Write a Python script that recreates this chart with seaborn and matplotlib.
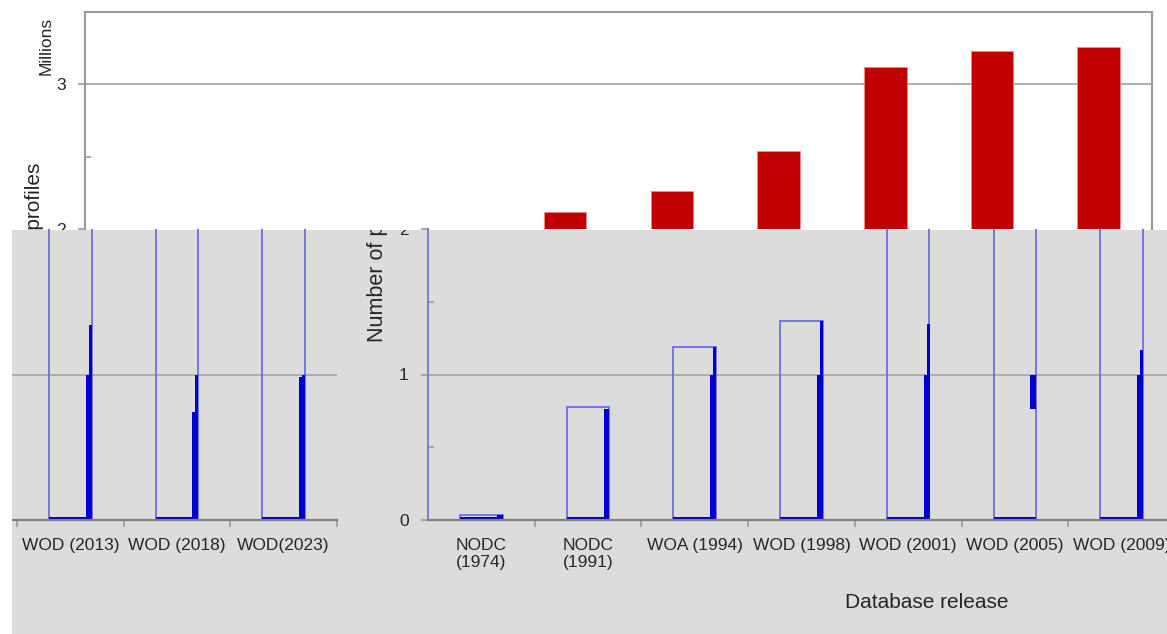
import numpy as np
import matplotlib
matplotlib.use("Agg")
import matplotlib.pyplot as plt
from matplotlib.patches import Rectangle
from matplotlib.ticker import FixedLocator
import seaborn as sns

# ---------------- DATA ----------------
releases = ["NODC\n(1974)", "NODC\n(1991)", "WOA (1994)", "WOD (1998)", "WOD (2001)",
            "WOD (2005)", "WOD (2009)", "WOD (2013)", "WOD (2018)", "WOD(2023)"]
profiles_m = [0.035, 0.78, 1.19, 1.37, 2.12, 2.26, 2.54, 3.12, 3.23, 3.26]

# thick blue strip drawn at the right edge of each outlined bar (rendering artefact)
strip_bottom = [0, 0, 0, 0, 0, 0.76, 0, 0, 0, 0]
strip_top = [0.035, 0.76, 1.0, 1.0, 1.0, 1.0, 1.0, 1.0, 0.74, 0.98]
strip_mid_top = [0, 0, 1.19, 1.37, 1.35, 0, 1.17, 1.34, 1.0, 1.0]

# ---------------- STYLE ----------------
sns.set_style("white")
plt.rcParams["font.family"] = ["Liberation Sans", "DejaVu Sans"]

W, H = 1167, 634
RED = "#c00000"
BLUE = "#0000cc"
EDGE = "#6f6fdc"
GRID = "#a8a8a8"
SPINE = "#9a9a9a"
BG = "#dcdcdc"

fig = plt.figure(figsize=(W / 100, H / 100), dpi=100)


def px_box(x0, y0, x1, y1):
    # pixel box (top-left origin) -> figure fraction rect
    return [x0 / W, 1 - y1 / H, (x1 - x0) / W, (y1 - y0) / H]


# ---------------- TOP (white, red bars) ----------------
ax_top = fig.add_axes(px_box(85, 12, 1152, 229))
ax_top.set_zorder(0)
sns.barplot(x=releases, y=profiles_m, color=RED, saturation=1, width=0.4,
            edgecolor="#e88", linewidth=0.6, ax=ax_top)
ax_top.set_xlim(-0.5, 9.5)
ax_top.set_ylim(2, 3.5)
ax_top.set_yticks([2, 3])
ax_top.set_yticklabels(["2", "3"], fontsize=12.5)
ax_top.yaxis.set_minor_locator(FixedLocator([2.5]))
ax_top.tick_params(axis="y", which="major", direction="out", length=5, width=1.2,
                   color=SPINE, pad=9, left=True)
ax_top.tick_params(axis="y", which="minor", direction="in", length=4, width=1.2,
                   color=SPINE, left=True)
ax_top.set_xticks([])
ax_top.set_xlabel("")
ax_top.axhline(3, color=GRID, lw=1.3, zorder=0)
for side in ["left", "top", "right"]:
    ax_top.spines[side].set_color(SPINE)
    ax_top.spines[side].set_linewidth(1.5)
ax_top.spines["bottom"].set_visible(False)
ax_top.text(40 / W, 1 - 163 / H, "Number of profiles", transform=fig.transFigure,
            rotation=90, rotation_mode="anchor", ha="right", va="baseline",
            fontsize=15, clip_on=False)
fig.text(51 / W, 1 - 46 / H, "Millions", rotation=90, rotation_mode="anchor",
         ha="center", va="baseline", fontsize=12.5)

# ---------------- BOTTOM (grey, shifted copy) ----------------
ax_bg = fig.add_axes(px_box(12, 230, 1167, 634))
ax_bg.set_zorder(1)
ax_bg.set_facecolor(BG)
ax_bg.set_xticks([])
ax_bg.set_yticks([])
for s in ax_bg.spines.values():
    s.set_visible(False)
ax_bg.text(383 / W, 1 - 342 / H, "Number of profiles", transform=fig.transFigure,
           rotation=90, rotation_mode="anchor", ha="left", va="baseline",
           fontsize=15.5, clip_on=True)


def draw_bottom(ax, shown):
    ax.set_facecolor("none")
    ax.axhline(1, color=GRID, lw=1.3, zorder=0)
    sns.barplot(x=releases, y=profiles_m, color=EDGE, fill=False, width=0.4,
                linewidth=1.3, ax=ax)
    xs = np.arange(len(releases))
    ax.bar(xs, 0.02, width=0.4, color=BLUE, linewidth=0)
    w1 = 0.055
    ax.bar(xs + 0.2 - w1 / 2, np.array(strip_top) - np.array(strip_bottom),
           bottom=strip_bottom, width=w1, color=BLUE, linewidth=0)
    w2 = 0.028
    ax.bar(xs + 0.2 - w1 / 2 + w2 / 2, strip_mid_top, width=w2, color=BLUE, linewidth=0)
    ax.set_xlim(-0.5, 9.5)
    ax.set_ylim(0, 2)
    ax.set_xticks(xs)
    # only the labels that fall inside the picture
    ax.set_xticklabels([lab if i in shown else "" for i, lab in enumerate(releases)],
                       fontsize=12.5)
    ax.xaxis.set_minor_locator(FixedLocator(xs + 0.5))
    ax.tick_params(axis="x", which="major", length=0, pad=13)
    ax.tick_params(axis="x", which="minor", direction="out", length=5, width=1.2,
                   color=SPINE, bottom=True)
    ax.set_yticks([0, 1, 2])
    ax.set_yticklabels(["0", "1", "2"], fontsize=12.5)
    ax.yaxis.set_minor_locator(FixedLocator([0.5, 1.5]))
    ax.tick_params(axis="y", which="major", direction="out", length=5, width=1.2,
                   color=SPINE, pad=9, left=True)
    ax.tick_params(axis="y", which="minor", direction="in", length=4, width=1.2,
                   color=SPINE, left=True)
    for lab in ax.get_yticklabels() + ax.get_xticklabels():
        lab.set_clip_box(ax_bg.bbox)
        lab.set_clip_on(True)
    ax.spines["top"].set_visible(False)
    ax.spines["right"].set_visible(False)
    ax.spines["left"].set_color("#8080d0")
    ax.spines["left"].set_linewidth(1.5)
    ax.spines["bottom"].set_color("#808080")
    ax.spines["bottom"].set_linewidth(1.6)


ax_r = fig.add_axes(px_box(428, 229, 1495, 520))
ax_r.set_zorder(2)
draw_bottom(ax_r, shown=range(0, 7))
ax_r.set_xlabel("Database release", fontsize=15)
ax_r.xaxis.set_label_coords((927 - 428) / 1067, -(593 - 520) / 291)

ax_l = fig.add_axes(px_box(-730, 229, 337, 520))
ax_l.set_zorder(2)
draw_bottom(ax_l, shown=range(6, 10))
ax_l.set_xlabel("")

# white strip left of the grey panel
fig.add_artist(Rectangle((0, 0), 12 / W, 404 / H, transform=fig.transFigure,
                         facecolor="white", edgecolor="none", zorder=10))

fig.savefig("out.png", dpi=100)
